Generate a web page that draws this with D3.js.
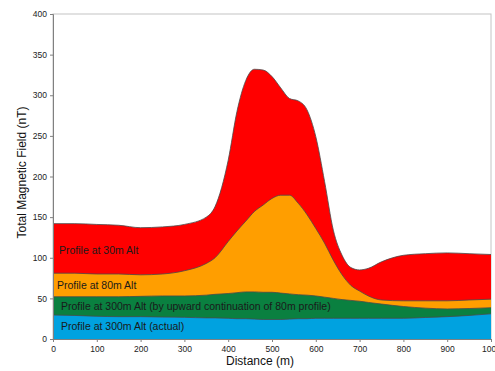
<!DOCTYPE html>
<html>
<head>
<meta charset="utf-8">
<script src="https://cdn.jsdelivr.net/npm/d3@7"></script>
<style>
  body { margin: 0; background: #fff; }
  text { font-family: "Liberation Sans", Arial, sans-serif; }
</style>
</head>
<body>
<div id="plotDiv"></div>
<script>
// --- Data ---
const distances = [0, 50, 100, 150, 200, 250, 300, 350, 370, 400, 420, 440, 460, 480, 500, 520,
  540, 560, 580, 600, 620, 640, 660, 680, 700, 720, 750, 800, 850, 900, 950, 1000];
const alt30 = [142, 142, 141, 140, 137, 138, 141, 150, 163, 220, 280, 318, 332, 331, 323, 309,
  296, 293, 282, 249, 194, 134, 103, 88, 85, 87, 95, 103, 105, 106, 105, 104];
const alt80 = [81, 81, 80, 80, 79, 80, 84, 93, 100, 120, 133, 145, 157, 165, 173, 177,
  177, 167, 153, 136, 118, 97, 79, 66, 59, 53, 48, 47, 47, 47, 48, 49];
const alt300Up = [52, 52, 52, 52, 52.5, 53, 53, 54, 55, 56, 57, 58, 58, 57.5, 57.5, 56.5,
  55.5, 54.5, 54, 53, 51.5, 50, 48.5, 47.5, 46.5, 45, 43, 40, 38, 37, 37.5, 38.5];
const alt300Actual = [29.5, 29, 28, 27.5, 27.5, 27, 26.7, 26, 26, 25.5, 25, 25, 24.5, 24, 24, 24,
  24.5, 25, 25, 25.5, 25.5, 25.5, 25.5, 25.5, 25.5, 25.5, 25.5, 25.5, 26.5, 27.5, 29, 31];

const seriesNames = ["Profile at 30m Alt", "Profile at 80m Alt",
  "Profile at 300m Alt (by upward continuation of 80m profile)", "Profile at 300m Alt (actual)"];
const seriesValues = [alt30, alt80, alt300Up, alt300Actual];
const seriesColors = ["#ff0000", "#ff9e00", "#0a8040", "#00a2e0"];
const labelValues = [105, 61.5, 35.5, 11];   // baseline of each label (in nT)

const xTicks = d3.range(0, 1001, 100);
const yTicks = d3.range(0, 401, 50);

// --- SVG Setup ---
const W = 495, H = 371;
const margin = {top: 14, right: 4, bottom: 32, left: 53};

const svg = d3.select("#plotDiv")
  .append("svg")
  .attr("width", W)
  .attr("height", H);

const x = d3.scaleLinear().domain([0, 1000]).range([margin.left, W - margin.right]);
const y = d3.scaleLinear().domain([0, 400]).range([H - margin.bottom, margin.top]);

// plot frame (top / right light grey)
svg.append("rect")
  .attr("x", x(0)).attr("y", y(400))
  .attr("width", x(1000) - x(0)).attr("height", y(0) - y(400))
  .attr("fill", "none").attr("stroke", "#c4c4c4");

// --- Areas, drawn back to front ---
const area = d3.area()
  .x((d, i) => x(distances[i]))
  .y0(y(0))
  .y1(d => y(d))
  .curve(d3.curveMonotoneX);
const line = d3.line()
  .x((d, i) => x(distances[i]))
  .y(d => y(d))
  .curve(d3.curveMonotoneX);

const g = svg.append("g");
seriesValues.forEach((vals, k) => {
  g.append("path").attr("d", area(vals)).attr("fill", seriesColors[k]);
  g.append("path").attr("d", line(vals)).attr("fill", "none")
    .attr("stroke", "#4a4a4a").attr("stroke-width", 0.8);
});

// series labels inside the areas
svg.append("g").selectAll("text")
  .data(seriesNames)
  .join("text")
  .attr("x", (d, i) => i === 1 ? 57 : (i === 0 ? 59 : 61))
  .attr("y", (d, i) => y(labelValues[i]))
  .attr("font-size", "10.5px")
  .attr("fill", "#1a1a1a")
  .text(d => d);

// --- Axes ---
const yAxis = svg.append("g")
  .attr("transform", `translate(${x(0)},0)`)
  .call(d3.axisLeft(y).tickValues(yTicks).tickSize(3).tickPadding(3));
const xAxis = svg.append("g")
  .attr("transform", `translate(0,${y(0)})`)
  .call(d3.axisBottom(x).tickValues(xTicks).tickFormat(d3.format("d")).tickSize(3).tickPadding(4));

[xAxis, yAxis].forEach(a => {
  a.select(".domain").attr("stroke", "#808080");
  a.selectAll(".tick line").attr("stroke", "#808080");
  a.selectAll(".tick text").attr("fill", "#222").attr("font-size", "8.5px")
    .attr("font-family", "Liberation Sans, Arial, sans-serif");
});

// axis titles
svg.append("text")
  .attr("x", 260).attr("y", 365)
  .attr("text-anchor", "middle")
  .attr("font-size", "12px").attr("fill", "#111")
  .text("Distance (m)");
svg.append("text")
  .attr("transform", `translate(26,${(y(0) + y(400)) / 2 - 4}) rotate(-90)`)
  .attr("text-anchor", "middle")
  .attr("font-size", "12px").attr("fill", "#111")
  .text("Total Magnetic Field (nT)");
</script>
</body>
</html>
